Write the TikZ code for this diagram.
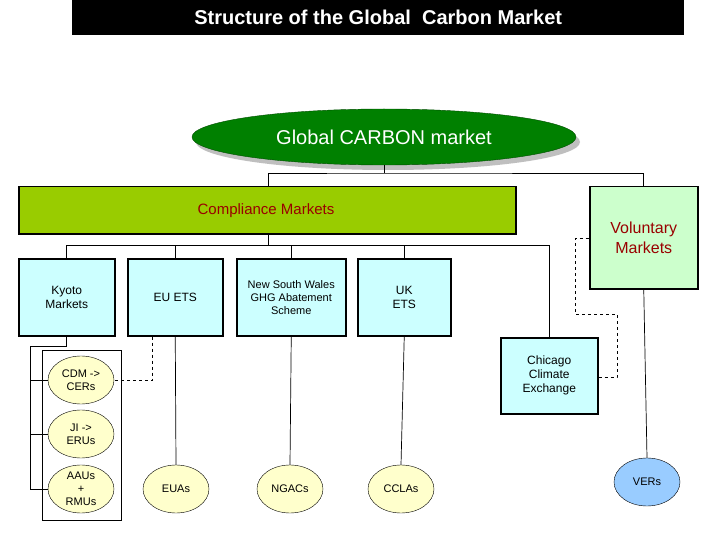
\documentclass[tikz,border=0pt]{standalone}
\usepackage{fontspec}
\setmainfont{Liberation Sans}
\usetikzlibrary{shapes.geometric}
\definecolor{cyanbox}{HTML}{CCFFFF}
\definecolor{yel}{HTML}{FFFFCC}
\definecolor{compl}{HTML}{99CC00}
\definecolor{vol}{HTML}{CCFFCC}
\definecolor{drk}{HTML}{990000}
\definecolor{ellg}{HTML}{008000}
\definecolor{verb}{HTML}{99CCFF}
\tikzset{
 sq/.style={draw=black,line width=1.5pt,fill=cyanbox,align=center,font=\fontsize{12}{14}\selectfont,inner sep=1pt},
 ov/.style={ellipse,draw=black,fill=yel,minimum width=66pt,minimum height=48pt,inner sep=0pt,align=center,font=\fontsize{11}{13}\selectfont},
 ln/.style={black,line width=0.7pt},
 dl/.style={black,line width=0.7pt,dashed}
}
\begin{document}
\begin{tikzpicture}[x=1pt,y=-1pt]
\useasboundingbox (0,0) rectangle (720,540);
\fill[white] (0,0) rectangle (720,540);
\node[fill=black,minimum width=612pt,minimum height=35pt,anchor=north west,text=white,font=\bfseries\fontsize{20}{22}\selectfont,inner sep=0pt] (title) at (72,0) {Structure of the Global\ \ Carbon Market};
\fill[gray!50] (388,142) ellipse [x radius=192pt,y radius=28pt];
\node[ellipse,fill=ellg,draw=ellg!60!black,minimum width=384pt,minimum height=56pt,text=white,font=\fontsize{20}{22}\selectfont] (glob) at (384,137) {Global CARBON market};
\node[draw=black,line width=1.5pt,fill=compl,minimum width=497pt,minimum height=47pt,anchor=north west,inner sep=0pt] (comp) at (18,186) {};
\node[text=drk,font=\fontsize{15}{17}\selectfont] (compt) at (266,211) {Compliance Markets};
\node[draw=black,line width=1.5pt,fill=vol,minimum width=108pt,minimum height=102pt,anchor=north west,inner sep=0pt,text=drk,align=center,font=\fontsize{16}{20}\selectfont] (volm) at (589,186) {Voluntary\\Markets};
\node[sq,minimum width=96pt,minimum height=77pt,anchor=north west] (kyo) at (18,258) {Kyoto\\Markets};
\node[sq,minimum width=95pt,minimum height=77pt,anchor=north west] (eu) at (127,258) {EU ETS};
\node[sq,minimum width=109pt,minimum height=77pt,anchor=north west,font=\fontsize{11}{13}\selectfont] (nsw) at (236,258) {New South Wales\\GHG Abatement\\Scheme};
\node[sq,minimum width=93pt,minimum height=77pt,anchor=north west] (uk) at (357,258) {UK\\ETS};
\node[sq,minimum width=97pt,minimum height=76pt,anchor=north west] (chi) at (500,337) {Chicago\\Climate\\Exchange};
\node[draw=black,line width=1pt,minimum width=79pt,minimum height=170pt,anchor=north west,inner sep=0pt] (grp) at (42,350) {};
\node[ov] (cdm) at (81,380) {CDM ->\\CERs};
\node[ov] (ji) at (81,434) {JI ->\\ERUs};
\node[ov] (aau) at (81,489) {AAUs\\+\\RMUs};
\node[ov] (euas) at (176,489) {EUAs};
\node[ov] (ngac) at (290,489) {NGACs};
\node[ov] (ccla) at (401,489) {CCLAs};
\node[ov,fill=verb] (ver) at (647,482) {VERs};
\coordinate (t1) at (384,173);
\coordinate (t2) at (268,245);
\draw[ln] (glob.south) -- (t1);
\draw[ln] (comp.north -| t2) |- (t1) -| (volm.north);
\draw[ln] (comp.south -| t2) -- (t2);
\draw[ln] (t2) -| (kyo.north);
\draw[ln] (t2) -| (eu.north);
\draw[ln] (t2) -| (nsw.north);
\draw[ln] (t2) -| (uk.north);
\draw[ln] (t2) -| (chi.north);
\coordinate (k1) at (30,346);
\draw[ln] (kyo.south) |- (k1) |- (aau.west);
\draw[ln] (k1 |- cdm.west) -- (cdm.west);
\draw[ln] (k1 |- ji.west) -- (ji.west);
\draw[ln] (eu.south) -- (euas.north);
\draw[ln] (nsw.south) -- (ngac.north);
\draw[ln] (uk.south) -- (ccla.north);
\draw[ln] (volm.south) -- (ver.north);
\coordinate (e1) at (152,380);
\draw[dl] (eu.south -| e1) -- (e1) -- (cdm.east);
\coordinate (c1) at (617,377);
\coordinate (c2) at (575,314);
\draw[dl] (chi.east |- c1) -- (c1) |- (c2) |- (volm.west |- 0,238);
\end{tikzpicture}
\end{document}
